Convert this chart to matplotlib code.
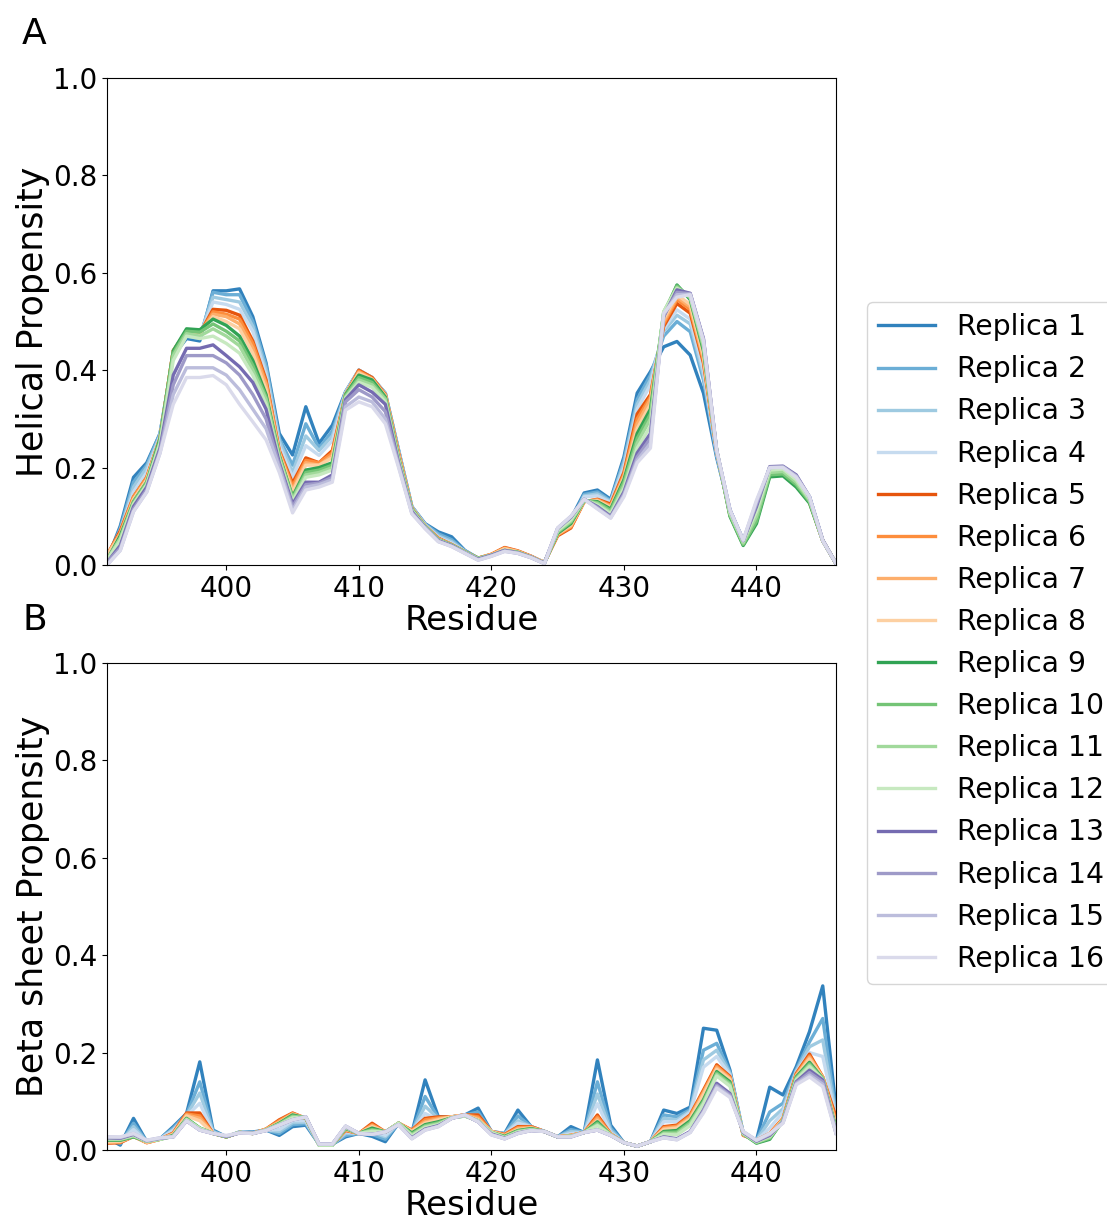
import matplotlib
matplotlib.use("Agg")
import matplotlib.pyplot as plt

residues = list(range(391, 447))
labels = ["Replica %d" % i for i in range(1, 17)]

# helical propensity, replicas 1-16 (residues 391..446)
helix_01 = [0.010, 0.080, 0.180, 0.210, 0.270, 0.430, 0.465, 0.460, 0.563, 0.563,
            0.567, 0.510, 0.415, 0.270, 0.226, 0.325, 0.250, 0.287, 0.356, 0.400,
            0.384, 0.353, 0.236, 0.120, 0.085, 0.068, 0.058, 0.030, 0.014, 0.020,
            0.030, 0.025, 0.017, 0.005, 0.070, 0.095, 0.148, 0.154, 0.135, 0.222,
            0.353, 0.397, 0.448, 0.459, 0.431, 0.353, 0.220, 0.113, 0.051, 0.120,
            0.200, 0.200, 0.180, 0.140, 0.050, 0.003]
helix_02 = [0.010, 0.075, 0.170, 0.205, 0.270, 0.430, 0.470, 0.465, 0.560, 0.555,
            0.555, 0.500, 0.410, 0.260, 0.205, 0.290, 0.240, 0.275, 0.355, 0.400,
            0.385, 0.352, 0.235, 0.120, 0.084, 0.064, 0.052, 0.029, 0.014, 0.020,
            0.031, 0.026, 0.017, 0.005, 0.068, 0.090, 0.145, 0.150, 0.132, 0.215,
            0.340, 0.390, 0.470, 0.500, 0.479, 0.380, 0.225, 0.110, 0.050, 0.115,
            0.198, 0.199, 0.178, 0.138, 0.050, 0.003]
helix_03 = [0.015, 0.070, 0.160, 0.200, 0.265, 0.430, 0.470, 0.470, 0.550, 0.545,
            0.540, 0.490, 0.400, 0.255, 0.190, 0.265, 0.235, 0.265, 0.355, 0.400,
            0.385, 0.352, 0.234, 0.120, 0.083, 0.060, 0.048, 0.028, 0.014, 0.020,
            0.032, 0.027, 0.018, 0.005, 0.065, 0.086, 0.142, 0.146, 0.130, 0.208,
            0.330, 0.380, 0.480, 0.513, 0.495, 0.390, 0.228, 0.108, 0.048, 0.110,
            0.196, 0.198, 0.176, 0.136, 0.050, 0.003]
helix_04 = [0.015, 0.070, 0.150, 0.190, 0.265, 0.435, 0.475, 0.470, 0.540, 0.535,
            0.525, 0.480, 0.390, 0.245, 0.180, 0.245, 0.225, 0.255, 0.353, 0.400,
            0.385, 0.351, 0.232, 0.118, 0.082, 0.057, 0.045, 0.028, 0.014, 0.021,
            0.034, 0.028, 0.018, 0.005, 0.062, 0.080, 0.140, 0.142, 0.128, 0.200,
            0.320, 0.370, 0.485, 0.524, 0.505, 0.400, 0.230, 0.106, 0.047, 0.105,
            0.193, 0.197, 0.173, 0.133, 0.050, 0.003]
helix_05 = [0.020, 0.070, 0.140, 0.180, 0.260, 0.440, 0.480, 0.475, 0.525, 0.523,
            0.513, 0.460, 0.380, 0.235, 0.168, 0.220, 0.210, 0.235, 0.350, 0.400,
            0.385, 0.350, 0.230, 0.117, 0.080, 0.055, 0.042, 0.027, 0.014, 0.022,
            0.036, 0.029, 0.018, 0.005, 0.060, 0.076, 0.130, 0.135, 0.125, 0.190,
            0.310, 0.350, 0.490, 0.537, 0.517, 0.415, 0.233, 0.105, 0.045, 0.100,
            0.190, 0.195, 0.170, 0.130, 0.050, 0.003]
helix_06 = [0.020, 0.065, 0.140, 0.180, 0.260, 0.440, 0.480, 0.475, 0.520, 0.515,
            0.505, 0.455, 0.375, 0.233, 0.162, 0.215, 0.210, 0.230, 0.350, 0.398,
            0.383, 0.349, 0.228, 0.117, 0.080, 0.054, 0.042, 0.027, 0.014, 0.022,
            0.035, 0.028, 0.017, 0.005, 0.062, 0.078, 0.130, 0.134, 0.122, 0.186,
            0.300, 0.345, 0.495, 0.545, 0.525, 0.420, 0.233, 0.104, 0.044, 0.098,
            0.188, 0.193, 0.168, 0.130, 0.050, 0.003]
helix_07 = [0.020, 0.065, 0.135, 0.175, 0.260, 0.440, 0.480, 0.475, 0.515, 0.510,
            0.495, 0.445, 0.370, 0.230, 0.155, 0.210, 0.205, 0.225, 0.350, 0.396,
            0.382, 0.348, 0.226, 0.116, 0.080, 0.053, 0.042, 0.027, 0.014, 0.021,
            0.034, 0.028, 0.017, 0.005, 0.063, 0.080, 0.131, 0.133, 0.120, 0.182,
            0.290, 0.340, 0.500, 0.550, 0.530, 0.425, 0.234, 0.103, 0.043, 0.095,
            0.186, 0.191, 0.166, 0.129, 0.050, 0.003]
helix_08 = [0.020, 0.060, 0.135, 0.175, 0.260, 0.440, 0.480, 0.475, 0.510, 0.500,
            0.485, 0.435, 0.360, 0.228, 0.150, 0.205, 0.205, 0.220, 0.350, 0.394,
            0.381, 0.347, 0.224, 0.116, 0.080, 0.053, 0.041, 0.027, 0.014, 0.021,
            0.033, 0.027, 0.017, 0.005, 0.064, 0.082, 0.131, 0.132, 0.118, 0.179,
            0.280, 0.330, 0.505, 0.555, 0.535, 0.430, 0.234, 0.102, 0.042, 0.092,
            0.184, 0.188, 0.163, 0.128, 0.050, 0.003]
helix_09 = [0.010, 0.060, 0.130, 0.170, 0.260, 0.440, 0.485, 0.483, 0.505, 0.492,
            0.470, 0.420, 0.350, 0.225, 0.140, 0.195, 0.200, 0.210, 0.350, 0.390,
            0.380, 0.345, 0.220, 0.115, 0.079, 0.052, 0.041, 0.027, 0.014, 0.020,
            0.030, 0.026, 0.016, 0.004, 0.065, 0.085, 0.132, 0.130, 0.115, 0.175,
            0.270, 0.320, 0.515, 0.575, 0.545, 0.440, 0.235, 0.100, 0.040, 0.085,
            0.181, 0.183, 0.160, 0.127, 0.050, 0.003]
helix_10 = [0.010, 0.055, 0.130, 0.170, 0.255, 0.435, 0.480, 0.478, 0.495, 0.480,
            0.460, 0.410, 0.345, 0.222, 0.138, 0.190, 0.195, 0.205, 0.348, 0.385,
            0.375, 0.342, 0.218, 0.114, 0.079, 0.052, 0.041, 0.026, 0.013, 0.020,
            0.030, 0.026, 0.016, 0.004, 0.067, 0.088, 0.133, 0.128, 0.112, 0.170,
            0.260, 0.310, 0.518, 0.573, 0.548, 0.445, 0.235, 0.102, 0.042, 0.090,
            0.185, 0.187, 0.165, 0.130, 0.050, 0.003]
helix_11 = [0.010, 0.055, 0.125, 0.165, 0.250, 0.430, 0.475, 0.470, 0.485, 0.470,
            0.450, 0.400, 0.340, 0.220, 0.135, 0.185, 0.190, 0.200, 0.345, 0.380,
            0.370, 0.340, 0.216, 0.113, 0.078, 0.051, 0.040, 0.026, 0.013, 0.020,
            0.030, 0.025, 0.016, 0.004, 0.069, 0.090, 0.133, 0.126, 0.108, 0.163,
            0.250, 0.300, 0.520, 0.570, 0.550, 0.450, 0.235, 0.105, 0.045, 0.100,
            0.190, 0.192, 0.170, 0.133, 0.050, 0.003]
helix_12 = [0.010, 0.050, 0.125, 0.165, 0.250, 0.420, 0.470, 0.465, 0.470, 0.455,
            0.435, 0.390, 0.330, 0.215, 0.130, 0.180, 0.185, 0.195, 0.343, 0.375,
            0.365, 0.335, 0.214, 0.112, 0.078, 0.051, 0.040, 0.026, 0.013, 0.020,
            0.030, 0.025, 0.016, 0.004, 0.071, 0.093, 0.134, 0.123, 0.105, 0.157,
            0.240, 0.285, 0.520, 0.568, 0.552, 0.455, 0.235, 0.108, 0.048, 0.110,
            0.195, 0.197, 0.175, 0.136, 0.050, 0.003]
helix_13 = [0.005, 0.040, 0.120, 0.160, 0.240, 0.390, 0.445, 0.445, 0.452, 0.430,
            0.407, 0.375, 0.320, 0.210, 0.125, 0.170, 0.170, 0.185, 0.340, 0.370,
            0.355, 0.330, 0.210, 0.110, 0.077, 0.050, 0.040, 0.025, 0.012, 0.020,
            0.030, 0.025, 0.016, 0.004, 0.075, 0.098, 0.135, 0.120, 0.100, 0.150,
            0.230, 0.270, 0.510, 0.565, 0.558, 0.465, 0.235, 0.113, 0.050, 0.120,
            0.202, 0.203, 0.185, 0.140, 0.051, 0.003]
helix_14 = [0.005, 0.035, 0.115, 0.155, 0.235, 0.370, 0.430, 0.430, 0.430, 0.415,
            0.390, 0.350, 0.300, 0.205, 0.120, 0.165, 0.168, 0.180, 0.335, 0.360,
            0.345, 0.315, 0.207, 0.108, 0.076, 0.049, 0.039, 0.025, 0.011, 0.019,
            0.029, 0.024, 0.015, 0.003, 0.075, 0.099, 0.135, 0.118, 0.098, 0.146,
            0.222, 0.260, 0.512, 0.560, 0.557, 0.463, 0.235, 0.113, 0.050, 0.125,
            0.201, 0.202, 0.183, 0.140, 0.051, 0.003]
helix_15 = [0.000, 0.030, 0.110, 0.150, 0.230, 0.350, 0.405, 0.405, 0.405, 0.390,
            0.360, 0.320, 0.280, 0.200, 0.113, 0.160, 0.165, 0.175, 0.325, 0.345,
            0.335, 0.300, 0.203, 0.106, 0.075, 0.048, 0.038, 0.024, 0.010, 0.018,
            0.028, 0.024, 0.015, 0.003, 0.076, 0.100, 0.135, 0.116, 0.097, 0.143,
            0.215, 0.250, 0.515, 0.555, 0.556, 0.462, 0.235, 0.113, 0.051, 0.130,
            0.200, 0.201, 0.182, 0.140, 0.050, 0.003]
helix_16 = [0.000, 0.030, 0.110, 0.150, 0.230, 0.330, 0.385, 0.385, 0.389, 0.370,
            0.330, 0.294, 0.257, 0.190, 0.107, 0.154, 0.160, 0.170, 0.318, 0.335,
            0.325, 0.290, 0.200, 0.105, 0.075, 0.048, 0.038, 0.024, 0.010, 0.018,
            0.028, 0.024, 0.015, 0.003, 0.076, 0.100, 0.135, 0.115, 0.096, 0.140,
            0.210, 0.240, 0.517, 0.550, 0.555, 0.460, 0.235, 0.113, 0.051, 0.133,
            0.200, 0.200, 0.180, 0.140, 0.050, 0.003]

# beta sheet propensity, replicas 1-16
sheet_01 = [0.025, 0.010, 0.065, 0.017, 0.023, 0.048, 0.075, 0.181, 0.041, 0.027,
            0.037, 0.037, 0.041, 0.030, 0.048, 0.051, 0.012, 0.012, 0.027, 0.034,
            0.028, 0.017, 0.055, 0.035, 0.144, 0.068, 0.068, 0.072, 0.086, 0.038,
            0.034, 0.082, 0.048, 0.038, 0.027, 0.048, 0.036, 0.185, 0.051, 0.015,
            0.008, 0.017, 0.082, 0.075, 0.088, 0.250, 0.246, 0.164, 0.034, 0.020,
            0.129, 0.113, 0.171, 0.243, 0.337, 0.085]
sheet_02 = [0.025, 0.013, 0.055, 0.017, 0.023, 0.045, 0.073, 0.140, 0.039, 0.027,
            0.037, 0.036, 0.041, 0.034, 0.052, 0.054, 0.012, 0.012, 0.030, 0.034,
            0.032, 0.022, 0.055, 0.036, 0.110, 0.066, 0.068, 0.072, 0.078, 0.038,
            0.033, 0.070, 0.048, 0.038, 0.027, 0.042, 0.036, 0.140, 0.045, 0.015,
            0.008, 0.017, 0.072, 0.068, 0.083, 0.205, 0.219, 0.160, 0.034, 0.020,
            0.078, 0.096, 0.165, 0.222, 0.270, 0.075]
sheet_03 = [0.025, 0.016, 0.048, 0.017, 0.023, 0.042, 0.071, 0.117, 0.037, 0.027,
            0.037, 0.035, 0.041, 0.038, 0.056, 0.057, 0.012, 0.012, 0.034, 0.034,
            0.036, 0.027, 0.055, 0.037, 0.090, 0.064, 0.068, 0.072, 0.072, 0.038,
            0.033, 0.060, 0.048, 0.038, 0.027, 0.038, 0.036, 0.115, 0.040, 0.015,
            0.008, 0.017, 0.065, 0.062, 0.080, 0.185, 0.205, 0.157, 0.034, 0.020,
            0.060, 0.085, 0.162, 0.212, 0.226, 0.070]
sheet_04 = [0.025, 0.018, 0.042, 0.017, 0.023, 0.040, 0.070, 0.096, 0.036, 0.027,
            0.037, 0.035, 0.041, 0.042, 0.060, 0.060, 0.012, 0.012, 0.037, 0.034,
            0.040, 0.030, 0.055, 0.038, 0.075, 0.062, 0.068, 0.072, 0.068, 0.038,
            0.032, 0.055, 0.048, 0.038, 0.027, 0.034, 0.036, 0.095, 0.036, 0.015,
            0.008, 0.017, 0.058, 0.058, 0.077, 0.170, 0.192, 0.154, 0.034, 0.020,
            0.045, 0.078, 0.160, 0.200, 0.192, 0.065]
sheet_05 = [0.014, 0.015, 0.028, 0.015, 0.022, 0.035, 0.076, 0.076, 0.034, 0.027,
            0.036, 0.034, 0.043, 0.062, 0.076, 0.065, 0.011, 0.011, 0.040, 0.034,
            0.055, 0.037, 0.055, 0.041, 0.065, 0.068, 0.068, 0.072, 0.072, 0.038,
            0.032, 0.048, 0.048, 0.038, 0.027, 0.030, 0.036, 0.072, 0.033, 0.015,
            0.008, 0.017, 0.048, 0.051, 0.072, 0.123, 0.175, 0.151, 0.030, 0.020,
            0.034, 0.065, 0.157, 0.197, 0.150, 0.068]
sheet_06 = [0.015, 0.016, 0.028, 0.015, 0.022, 0.034, 0.074, 0.070, 0.034, 0.027,
            0.036, 0.034, 0.043, 0.060, 0.075, 0.065, 0.011, 0.011, 0.041, 0.034,
            0.052, 0.037, 0.055, 0.040, 0.062, 0.066, 0.068, 0.072, 0.068, 0.038,
            0.031, 0.046, 0.047, 0.038, 0.027, 0.030, 0.036, 0.068, 0.033, 0.015,
            0.008, 0.017, 0.046, 0.049, 0.070, 0.120, 0.172, 0.149, 0.031, 0.020,
            0.033, 0.064, 0.155, 0.193, 0.150, 0.060]
sheet_07 = [0.016, 0.017, 0.028, 0.016, 0.022, 0.033, 0.072, 0.065, 0.034, 0.027,
            0.036, 0.034, 0.042, 0.058, 0.074, 0.065, 0.011, 0.011, 0.042, 0.034,
            0.050, 0.037, 0.055, 0.039, 0.058, 0.064, 0.068, 0.072, 0.065, 0.038,
            0.030, 0.044, 0.046, 0.038, 0.027, 0.030, 0.036, 0.064, 0.032, 0.015,
            0.008, 0.017, 0.044, 0.047, 0.067, 0.117, 0.169, 0.147, 0.031, 0.020,
            0.032, 0.063, 0.153, 0.190, 0.149, 0.055]
sheet_08 = [0.017, 0.018, 0.028, 0.016, 0.022, 0.032, 0.070, 0.060, 0.034, 0.027,
            0.036, 0.034, 0.042, 0.056, 0.073, 0.066, 0.011, 0.011, 0.043, 0.034,
            0.048, 0.037, 0.055, 0.038, 0.055, 0.062, 0.068, 0.072, 0.062, 0.038,
            0.029, 0.042, 0.045, 0.038, 0.027, 0.029, 0.036, 0.060, 0.032, 0.015,
            0.008, 0.017, 0.042, 0.045, 0.064, 0.113, 0.166, 0.145, 0.032, 0.020,
            0.031, 0.062, 0.151, 0.187, 0.148, 0.050]
sheet_09 = [0.020, 0.020, 0.027, 0.018, 0.022, 0.030, 0.065, 0.045, 0.034, 0.027,
            0.036, 0.034, 0.041, 0.055, 0.072, 0.066, 0.010, 0.010, 0.044, 0.034,
            0.045, 0.037, 0.055, 0.035, 0.052, 0.058, 0.066, 0.070, 0.060, 0.036,
            0.028, 0.040, 0.044, 0.038, 0.027, 0.028, 0.036, 0.058, 0.031, 0.015,
            0.008, 0.017, 0.038, 0.040, 0.060, 0.103, 0.161, 0.140, 0.033, 0.014,
            0.022, 0.061, 0.150, 0.180, 0.147, 0.045]
sheet_10 = [0.021, 0.021, 0.028, 0.018, 0.022, 0.029, 0.064, 0.045, 0.034, 0.027,
            0.036, 0.034, 0.041, 0.054, 0.070, 0.066, 0.010, 0.010, 0.045, 0.034,
            0.042, 0.037, 0.055, 0.033, 0.050, 0.056, 0.066, 0.070, 0.060, 0.036,
            0.027, 0.039, 0.043, 0.038, 0.027, 0.028, 0.036, 0.055, 0.031, 0.015,
            0.008, 0.017, 0.036, 0.037, 0.057, 0.100, 0.158, 0.137, 0.033, 0.015,
            0.024, 0.060, 0.148, 0.177, 0.146, 0.042]
sheet_11 = [0.022, 0.022, 0.029, 0.018, 0.022, 0.028, 0.063, 0.044, 0.034, 0.028,
            0.036, 0.034, 0.041, 0.053, 0.068, 0.067, 0.010, 0.010, 0.046, 0.034,
            0.040, 0.037, 0.055, 0.031, 0.048, 0.054, 0.066, 0.070, 0.060, 0.036,
            0.026, 0.038, 0.042, 0.038, 0.027, 0.028, 0.036, 0.052, 0.031, 0.015,
            0.008, 0.017, 0.034, 0.034, 0.054, 0.097, 0.155, 0.134, 0.034, 0.016,
            0.026, 0.060, 0.146, 0.174, 0.145, 0.040]
sheet_12 = [0.023, 0.023, 0.030, 0.018, 0.022, 0.028, 0.062, 0.044, 0.034, 0.028,
            0.036, 0.034, 0.041, 0.052, 0.066, 0.067, 0.010, 0.010, 0.047, 0.034,
            0.038, 0.037, 0.055, 0.029, 0.046, 0.052, 0.066, 0.070, 0.060, 0.036,
            0.025, 0.037, 0.041, 0.038, 0.027, 0.028, 0.036, 0.050, 0.031, 0.015,
            0.008, 0.017, 0.032, 0.031, 0.050, 0.094, 0.152, 0.131, 0.034, 0.017,
            0.028, 0.059, 0.144, 0.171, 0.145, 0.038]
sheet_13 = [0.025, 0.024, 0.032, 0.019, 0.024, 0.027, 0.060, 0.041, 0.034, 0.028,
            0.035, 0.034, 0.040, 0.051, 0.062, 0.068, 0.012, 0.012, 0.048, 0.034,
            0.032, 0.037, 0.052, 0.025, 0.043, 0.050, 0.065, 0.072, 0.058, 0.033,
            0.024, 0.035, 0.040, 0.038, 0.027, 0.027, 0.036, 0.041, 0.030, 0.015,
            0.008, 0.017, 0.027, 0.023, 0.038, 0.082, 0.137, 0.116, 0.036, 0.018,
            0.030, 0.058, 0.140, 0.164, 0.144, 0.036]
sheet_14 = [0.026, 0.025, 0.033, 0.019, 0.024, 0.027, 0.060, 0.041, 0.034, 0.028,
            0.035, 0.034, 0.040, 0.051, 0.062, 0.068, 0.012, 0.012, 0.049, 0.034,
            0.032, 0.037, 0.052, 0.024, 0.042, 0.049, 0.065, 0.072, 0.058, 0.032,
            0.023, 0.034, 0.040, 0.038, 0.027, 0.027, 0.036, 0.041, 0.030, 0.015,
            0.008, 0.017, 0.026, 0.022, 0.037, 0.080, 0.133, 0.113, 0.037, 0.019,
            0.032, 0.057, 0.138, 0.159, 0.140, 0.035]
sheet_15 = [0.027, 0.026, 0.034, 0.020, 0.025, 0.027, 0.060, 0.041, 0.034, 0.029,
            0.035, 0.034, 0.040, 0.051, 0.062, 0.068, 0.012, 0.012, 0.049, 0.034,
            0.032, 0.037, 0.052, 0.023, 0.041, 0.048, 0.065, 0.072, 0.058, 0.031,
            0.023, 0.034, 0.040, 0.038, 0.027, 0.027, 0.036, 0.041, 0.030, 0.015,
            0.008, 0.017, 0.025, 0.021, 0.036, 0.078, 0.130, 0.110, 0.038, 0.020,
            0.033, 0.056, 0.136, 0.154, 0.135, 0.034]
sheet_16 = [0.027, 0.027, 0.034, 0.020, 0.025, 0.027, 0.060, 0.041, 0.034, 0.030,
            0.035, 0.034, 0.040, 0.051, 0.062, 0.068, 0.012, 0.012, 0.049, 0.034,
            0.032, 0.037, 0.052, 0.023, 0.041, 0.048, 0.065, 0.072, 0.058, 0.031,
            0.023, 0.034, 0.040, 0.038, 0.027, 0.027, 0.036, 0.041, 0.030, 0.015,
            0.008, 0.017, 0.025, 0.021, 0.036, 0.076, 0.127, 0.108, 0.038, 0.020,
            0.034, 0.055, 0.134, 0.150, 0.130, 0.034]

helix = [helix_01, helix_02, helix_03, helix_04, helix_05, helix_06, helix_07, helix_08,
         helix_09, helix_10, helix_11, helix_12, helix_13, helix_14, helix_15, helix_16]
sheet = [sheet_01, sheet_02, sheet_03, sheet_04, sheet_05, sheet_06, sheet_07, sheet_08,
         sheet_09, sheet_10, sheet_11, sheet_12, sheet_13, sheet_14, sheet_15, sheet_16]

colors = plt.cm.tab20c.colors[:16]

fig = plt.figure(figsize=(11.07, 12.23), dpi=100)
W, H = 1107, 1223
ax1 = fig.add_axes([107 / W, 1 - 565 / H, 729 / W, 487 / H])
ax2 = fig.add_axes([107 / W, 1 - 1150 / H, 729 / W, 487 / H])

for ax, data, ylab in [(ax1, helix, "Helical Propensity"),
                       (ax2, sheet, "Beta sheet Propensity")]:
    for i, vals in enumerate(data):
        ax.plot(residues, vals, color=colors[i], lw=2.4, label=labels[i])
    ax.set_xlim(391, 446)
    ax.set_ylim(0, 1.0)
    ax.set_xticks([400, 410, 420, 430, 440])
    ax.set_yticks([0.0, 0.2, 0.4, 0.6, 0.8, 1.0])
    ax.tick_params(labelsize=20)
    ax.set_xlabel("Residue", fontsize=24.5, labelpad=1)
    ax.set_ylabel(ylab, fontsize=25, labelpad=2)

fig.text(22 / W, 1 - 44 / H, "A", fontsize=26)
fig.text(22 / W, 1 - 630 / H, "B", fontsize=26)

handles, labs = ax1.get_legend_handles_labels()
fig.legend(handles, labs, loc="upper left", bbox_to_anchor=(867 / W, 1 - 302 / H),
           fontsize=20.3, borderaxespad=0)

fig.savefig("out.png", dpi=100)
